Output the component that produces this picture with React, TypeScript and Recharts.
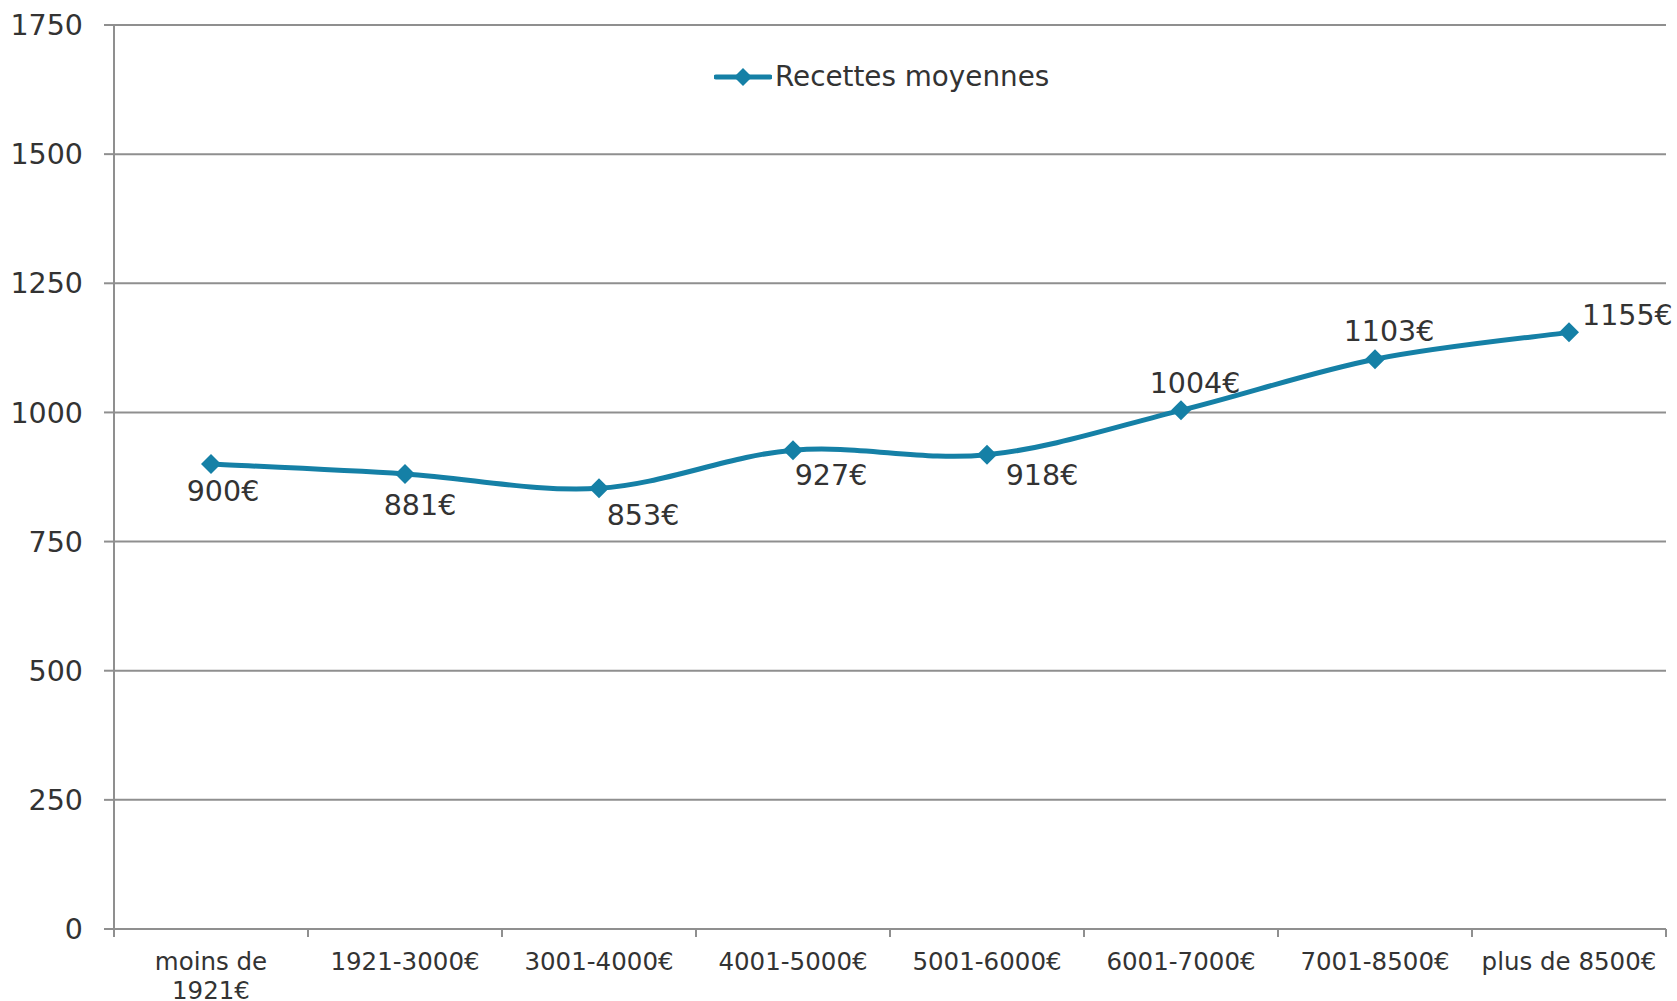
import React from 'react';
import {
	LineChart,
	Line,
	XAxis,
	YAxis,
	CartesianGrid,
	Legend,
	LabelList,
} from 'recharts';

const categories = [
	'moins de 1921€',
	'1921-3000€',
	'3001-4000€',
	'4001-5000€',
	'5001-6000€',
	'6001-7000€',
	'7001-8500€',
	'plus de 8500€',
];
const recettes = [900, 881, 853, 927, 918, 1004, 1103, 1155];
const yTicks = [0, 250, 500, 750, 1000, 1250, 1500, 1750];
const seriesName = 'Recettes moyennes';

const W = 1677;
const H = 1001;
const MARGIN = { top: 25, right: 11, bottom: 12, left: 0 };
const Y_AXIS_W = 114;
const BAND = (W - MARGIN.left - MARGIN.right - Y_AXIS_W) / categories.length;

const FONT = '"DejaVu Sans", Verdana, sans-serif';
const TEXT = '#333333';
const GRID = '#8f8f8f';
const BLUE = '#1580a6';
const X_FONT_SIZE = 24.5;

// where each value label sits relative to its point (Excel put them by hand)
const LABEL_OFFSETS: [number, number, 'middle' | 'start'][] = [
	[12, 27, 'middle'],
	[15, 31, 'middle'],
	[44, 26, 'middle'],
	[38, 25, 'middle'],
	[55, 20, 'middle'],
	[14, -28, 'middle'],
	[14, -28, 'middle'],
	[13, -18, 'start'],
];

const data = categories.map((cat, i) => ({ cat, value: recettes[i] }));

let measureCtx: CanvasRenderingContext2D | null = null;
const textWidth = (s: string) => {
	if (!measureCtx) measureCtx = document.createElement('canvas').getContext('2d');
	if (!measureCtx) return s.length * X_FONT_SIZE * 0.6;
	measureCtx.font = `${X_FONT_SIZE}px ${FONT}`;
	return measureCtx.measureText(s).width;
};

// greedy word wrap to the category band
const wrapLabel = (s: string, maxW: number) => {
	const words = s.split(' ');
	const lines: string[] = [];
	let cur = '';
	words.forEach((w) => {
		const next = cur ? `${cur} ${w}` : w;
		if (cur && textWidth(next) > maxW) {
			lines.push(cur);
			cur = w;
		} else cur = next;
	});
	if (cur) lines.push(cur);
	return lines;
};

// catmull-rom style smoothing, close to Excel's "smoothed line"
const smoothCurve = (context: any) => {
	let pts: number[][] = [];
	return {
		areaStart() {},
		areaEnd() {},
		lineStart() {
			pts = [];
		},
		point(x: number, y: number) {
			pts.push([+x, +y]);
		},
		lineEnd() {
			if (!pts.length) return;
			context.moveTo(pts[0][0], pts[0][1]);
			for (let i = 0; i < pts.length - 1; i++) {
				const p0 = pts[i - 1] || pts[i];
				const p1 = pts[i];
				const p2 = pts[i + 1];
				const p3 = pts[i + 2] || p2;
				context.bezierCurveTo(
					p1[0] + (p2[0] - p0[0]) / 6,
					p1[1] + (p2[1] - p0[1]) / 6,
					p2[0] - (p3[0] - p1[0]) / 6,
					p2[1] - (p3[1] - p1[1]) / 6,
					p2[0],
					p2[1]
				);
			}
		},
	};
};

const Diamond = (props: any) => {
	const { cx, cy, index } = props;
	if (cx == null || cy == null) return null;
	const r = 10;
	return (
		<polygon
			key={`dot-${index}`}
			points={`${cx},${cy - r} ${cx + r},${cy} ${cx},${cy + r} ${cx - r},${cy}`}
			fill={BLUE}
		/>
	);
};

const ValueLabel = (props: any) => {
	const { x, y, value, index } = props;
	const [dx, dy, anchor] = LABEL_OFFSETS[index] || [0, -20, 'middle'];
	return (
		<text
			x={x + dx}
			y={y + dy}
			dy='0.36em'
			textAnchor={anchor}
			fill={TEXT}
			fontSize={28.5}
			fontFamily={FONT}
		>
			{`${value}€`}
		</text>
	);
};

const CategoryTick = (props: any) => {
	const { x, y, payload, index } = props;
	const last = index === categories.length - 1;
	const lines = wrapLabel(String(payload.value), BAND - 12);
	return (
		<g>
			<line x1={x - BAND / 2} x2={x - BAND / 2} y1={y} y2={y + 8} stroke={GRID} strokeWidth={2} />
			{last && (
				<line x1={x + BAND / 2} x2={x + BAND / 2} y1={y} y2={y + 8} stroke={GRID} strokeWidth={2} />
			)}
			<text textAnchor='middle' fill={TEXT} fontSize={X_FONT_SIZE} fontFamily={FONT}>
				{lines.map((ln, i) => (
					<tspan key={i} x={x} y={y + 41 + i * 29}>
						{ln}
					</tspan>
				))}
			</text>
		</g>
	);
};

const LegendContent = () => (
	<div style={{ display: 'flex', alignItems: 'center', fontFamily: FONT }}>
		<svg width={58} height={20}>
			<line x1={2} x2={56} y1={10} y2={10} stroke={BLUE} strokeWidth={5} strokeLinecap='round' />
			<polygon points='29,1 38,10 29,19 20,10' fill={BLUE} />
		</svg>
		<span style={{ fontSize: 27.8, color: TEXT, marginLeft: 3, lineHeight: '34px', whiteSpace: 'nowrap' }}>
			{seriesName}
		</span>
	</div>
);

export default function App() {
	return (
		<div style={{ position: 'absolute', top: 0, left: 0, width: W, height: H, background: '#fff', fontFamily: FONT }}>
			<LineChart width={W} height={H} data={data} margin={MARGIN}>
				<CartesianGrid vertical={false} stroke={GRID} strokeWidth={2} />
				<XAxis
					dataKey='cat'
					interval={0}
					height={60}
					padding={{ left: BAND / 2, right: BAND / 2 }}
					tickSize={0}
					tickMargin={0}
					tickLine={false}
					axisLine={{ stroke: GRID, strokeWidth: 2 }}
					tick={<CategoryTick />}
				/>
				<YAxis
					width={Y_AXIS_W}
					domain={[0, 1750]}
					ticks={yTicks}
					interval={0}
					tickSize={10}
					tickMargin={21}
					axisLine={{ stroke: GRID, strokeWidth: 2 }}
					tickLine={{ stroke: GRID, strokeWidth: 2 }}
					tick={{ fill: TEXT, fontSize: 28.5, fontFamily: FONT }}
				/>
				<Legend
					layout='horizontal'
					verticalAlign='middle'
					align='center'
					wrapperStyle={{ top: 60, left: 714, width: 'auto' }}
					content={<LegendContent />}
				/>
				<Line
					dataKey='value'
					name={seriesName}
					type={smoothCurve as any}
					stroke={BLUE}
					strokeWidth={5}
					dot={Diamond}
					activeDot={false}
					isAnimationActive={false}
				>
					<LabelList dataKey='value' content={ValueLabel} />
				</Line>
			</LineChart>
		</div>
	);
}
